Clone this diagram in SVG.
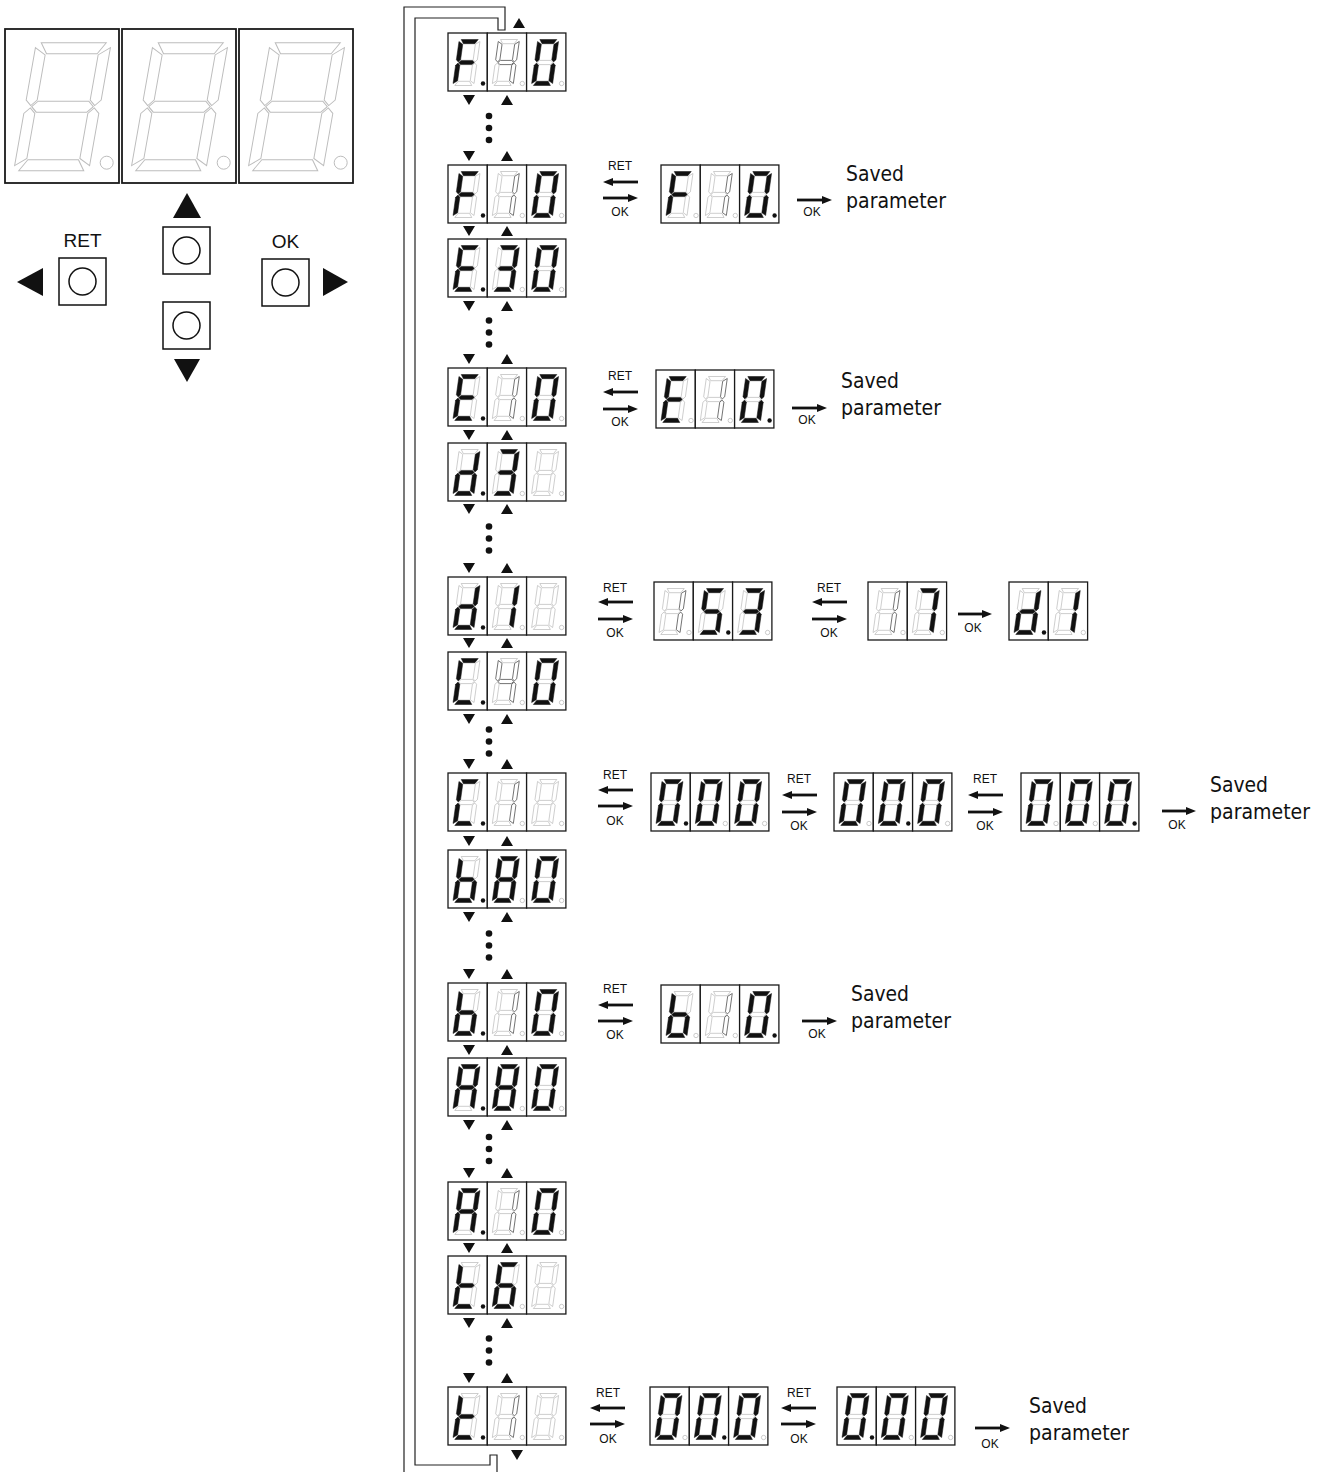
<svg xmlns="http://www.w3.org/2000/svg" xmlns:xlink="http://www.w3.org/1999/xlink" width="1328" height="1472" viewBox="0 0 1328 1472">
<style>
.cell{fill:#fff;stroke:#1a1a1a;stroke-width:1.3}
.bigcell{fill:#fff;stroke:#1a1a1a;stroke-width:1.8}
.on{fill:#111;stroke:#111;stroke-width:0.5;stroke-linejoin:round}
.off{fill:none;stroke:#b0b0b0;stroke-width:0.6}
.dim{fill:none;stroke:#555;stroke-width:0.8}
.boff{fill:none;stroke:#bdbdbd;stroke-width:1}
.dpon{fill:#111}
.dpoff{fill:#fff;stroke:#aaa;stroke-width:0.6}
.lbl{font-family:"Liberation Sans",Arial,sans-serif;font-size:12px;fill:#111;text-anchor:middle}
.btxt{font-family:"Liberation Sans",Arial,sans-serif;font-size:19px;fill:#111;text-anchor:middle}
.sv{font-family:"DejaVu Sans",Verdana,sans-serif;font-size:21px;fill:#111}
.btn{fill:#fff;stroke:#111;stroke-width:1.5}
.tri{fill:#111}
.arr{stroke:#111;stroke-width:2.8;fill:none;marker-end:url(#ah)}
.loop{fill:none;stroke:#222;stroke-width:1.2}
</style>
<defs>
<marker id="ah" viewBox="0 0 10 8" refX="1" refY="4" markerWidth="10" markerHeight="8" markerUnits="userSpaceOnUse" orient="auto"><path d="M0,0L10,4L0,8z" fill="#111"/></marker>
<polygon id="sa" points="2,0 19,0 16.2,4.2 4.8,4.2"/>
<polygon id="sb" points="21,2 21,20.3 18.9,22.4 16.8,20.3 16.8,4.8"/>
<polygon id="sc" points="21,44 21,25.7 18.9,23.6 16.8,25.7 16.8,41.2"/>
<polygon id="sd" points="2,46 19,46 16.2,41.8 4.8,41.8"/>
<polygon id="se" points="0,44 0,25.7 2.1,23.6 4.2,25.7 4.2,41.2"/>
<polygon id="sf" points="0,2 0,20.3 2.1,22.4 4.2,20.3 4.2,4.8"/>
<polygon id="sg" points="2.7,23 4.8,20.9 16.2,20.9 18.3,23 16.2,25.1 4.8,25.1"/>
<g id="D0" transform="translate(18.5 29.5) skewX(-8) translate(-10.5 -23)"><use href="#sa" class="on"/><use href="#sb" class="on"/><use href="#sc" class="on"/><use href="#sd" class="on"/><use href="#se" class="on"/><use href="#sf" class="on"/><use href="#sg" class="off"/></g>
<g id="D1" transform="translate(18.5 29.5) skewX(-8) translate(-10.5 -23)"><use href="#sa" class="off"/><use href="#sb" class="on"/><use href="#sc" class="on"/><use href="#sd" class="off"/><use href="#se" class="off"/><use href="#sf" class="off"/><use href="#sg" class="off"/></g>
<g id="D1m" transform="translate(18.5 29.5) skewX(-8) translate(-10.5 -23)"><use href="#sa" class="off"/><use href="#sb" class="dim"/><use href="#sc" class="dim"/><use href="#sd" class="off"/><use href="#se" class="off"/><use href="#sf" class="off"/><use href="#sg" class="off"/></g>
<g id="D3" transform="translate(18.5 29.5) skewX(-8) translate(-10.5 -23)"><use href="#sa" class="on"/><use href="#sb" class="on"/><use href="#sc" class="on"/><use href="#sd" class="on"/><use href="#se" class="off"/><use href="#sf" class="off"/><use href="#sg" class="on"/></g>
<g id="D4m" transform="translate(18.5 29.5) skewX(-8) translate(-10.5 -23)"><use href="#sa" class="off"/><use href="#sb" class="dim"/><use href="#sc" class="dim"/><use href="#sd" class="off"/><use href="#se" class="off"/><use href="#sf" class="dim"/><use href="#sg" class="dim"/></g>
<g id="D5" transform="translate(18.5 29.5) skewX(-8) translate(-10.5 -23)"><use href="#sa" class="on"/><use href="#sb" class="off"/><use href="#sc" class="on"/><use href="#sd" class="on"/><use href="#se" class="off"/><use href="#sf" class="on"/><use href="#sg" class="on"/></g>
<g id="D6" transform="translate(18.5 29.5) skewX(-8) translate(-10.5 -23)"><use href="#sa" class="on"/><use href="#sb" class="off"/><use href="#sc" class="on"/><use href="#sd" class="on"/><use href="#se" class="on"/><use href="#sf" class="on"/><use href="#sg" class="on"/></g>
<g id="D7" transform="translate(18.5 29.5) skewX(-8) translate(-10.5 -23)"><use href="#sa" class="on"/><use href="#sb" class="on"/><use href="#sc" class="on"/><use href="#sd" class="off"/><use href="#se" class="off"/><use href="#sf" class="off"/><use href="#sg" class="off"/></g>
<g id="D8" transform="translate(18.5 29.5) skewX(-8) translate(-10.5 -23)"><use href="#sa" class="on"/><use href="#sb" class="on"/><use href="#sc" class="on"/><use href="#sd" class="on"/><use href="#se" class="on"/><use href="#sf" class="on"/><use href="#sg" class="on"/></g>
<g id="DA" transform="translate(18.5 29.5) skewX(-8) translate(-10.5 -23)"><use href="#sa" class="on"/><use href="#sb" class="on"/><use href="#sc" class="on"/><use href="#sd" class="off"/><use href="#se" class="on"/><use href="#sf" class="on"/><use href="#sg" class="on"/></g>
<g id="Db" transform="translate(18.5 29.5) skewX(-8) translate(-10.5 -23)"><use href="#sa" class="off"/><use href="#sb" class="off"/><use href="#sc" class="on"/><use href="#sd" class="on"/><use href="#se" class="on"/><use href="#sf" class="on"/><use href="#sg" class="on"/></g>
<g id="DC" transform="translate(18.5 29.5) skewX(-8) translate(-10.5 -23)"><use href="#sa" class="on"/><use href="#sb" class="off"/><use href="#sc" class="off"/><use href="#sd" class="on"/><use href="#se" class="on"/><use href="#sf" class="on"/><use href="#sg" class="off"/></g>
<g id="Dd" transform="translate(18.5 29.5) skewX(-8) translate(-10.5 -23)"><use href="#sa" class="off"/><use href="#sb" class="on"/><use href="#sc" class="on"/><use href="#sd" class="on"/><use href="#se" class="on"/><use href="#sf" class="off"/><use href="#sg" class="on"/></g>
<g id="DE" transform="translate(18.5 29.5) skewX(-8) translate(-10.5 -23)"><use href="#sa" class="on"/><use href="#sb" class="off"/><use href="#sc" class="off"/><use href="#sd" class="on"/><use href="#se" class="on"/><use href="#sf" class="on"/><use href="#sg" class="on"/></g>
<g id="DF" transform="translate(18.5 29.5) skewX(-8) translate(-10.5 -23)"><use href="#sa" class="on"/><use href="#sb" class="off"/><use href="#sc" class="off"/><use href="#sd" class="off"/><use href="#se" class="on"/><use href="#sf" class="on"/><use href="#sg" class="on"/></g>
<g id="Dt" transform="translate(18.5 29.5) skewX(-8) translate(-10.5 -23)"><use href="#sa" class="off"/><use href="#sb" class="off"/><use href="#sc" class="off"/><use href="#sd" class="on"/><use href="#se" class="on"/><use href="#sf" class="on"/><use href="#sg" class="on"/></g>
<g id="Dx" transform="translate(18.5 29.5) skewX(-8) translate(-10.5 -23)"><use href="#sa" class="off"/><use href="#sb" class="off"/><use href="#sc" class="off"/><use href="#sd" class="off"/><use href="#se" class="off"/><use href="#sf" class="off"/><use href="#sg" class="off"/></g>
<g id="BD" class="boff" transform="translate(57.5 77.7) skewX(-10) translate(-37.5 -64)">
<polygon points="5,0 70,0 62.8,11 12.2,11"/>
<polygon points="75,5 75,57.3 69.5,62.8 64,57.3 64,12.2"/>
<polygon points="75,123 75,70.7 69.5,65.2 64,70.7 64,115.8"/>
<polygon points="5,128 70,128 62.8,117 12.2,117"/>
<polygon points="0,123 0,70.7 5.5,65.2 11,70.7 11,115.8"/>
<polygon points="0,5 0,57.3 5.5,62.8 11,57.3 11,12.2"/>
<polygon points="6.7,64 12.2,58.5 62.8,58.5 68.3,64 62.8,69.5 12.2,69.5"/>
</g>
<rect id="C" class="cell" width="39.3" height="58"/>
<circle id="P" cx="35" cy="50.5" r="2.2"/>
</defs>

<rect width="1328" height="1472" fill="#fff"/>

<g id="big-display">
<g transform="translate(5 29)"><rect class="bigcell" width="114" height="154"/><use href="#BD"/><circle class="boff" cx="101.7" cy="133.7" r="6.5"/></g>
<g transform="translate(122 29)"><rect class="bigcell" width="114" height="154"/><use href="#BD"/><circle class="boff" cx="101.7" cy="133.7" r="6.5"/></g>
<g transform="translate(239 29)"><rect class="bigcell" width="114" height="154"/><use href="#BD"/><circle class="boff" cx="101.7" cy="133.7" r="6.5"/></g>
</g>

<g id="btn-ret"><text class="btxt" x="82.5" y="247">RET</text><rect class="btn" x="59" y="258" width="47" height="47"/><circle class="btn" cx="82.5" cy="281.5" r="13.5"/><polygon class="tri" points="17,282 43,268 43,296"/></g>
<g id="btn-up"><polygon class="tri" points="173,218 201,218 187,193"/><rect class="btn" x="163" y="227" width="47" height="47"/><circle class="btn" cx="186.5" cy="250.5" r="13.5"/></g>
<g id="btn-down"><rect class="btn" x="163" y="302" width="47" height="47"/><circle class="btn" cx="186.5" cy="325.5" r="13.5"/><polygon class="tri" points="174,359 200,359 187,382"/></g>
<g id="btn-ok"><text class="btxt" x="285.5" y="248">OK</text><rect class="btn" x="262" y="259" width="47" height="47"/><circle class="btn" cx="285.5" cy="282.5" r="13.5"/><polygon class="tri" points="323,268 323,296 348,282"/></g>

<g id="connectors">
<path class="loop" d="M404,1472 V7 H505 V30 H498 V18 H415 V1465 H490 V1455 H497 V1472"/>
<polygon class="tri" points="513,28 525,28 519,18"/>
<polygon class="tri" points="511,1450 523,1450 517,1460"/>
<g class="tri">
<polygon points="463,95 475,95 469,105"/><polygon points="501,105 513,105 507,95"/>
<polygon points="463,151 475,151 469,161"/><polygon points="501,161 513,161 507,151"/>
<polygon points="463,226 475,226 469,236"/><polygon points="501,236 513,236 507,226"/>
<polygon points="463,301 475,301 469,311"/><polygon points="501,311 513,311 507,301"/>
<polygon points="463,354 475,354 469,364"/><polygon points="501,364 513,364 507,354"/>
<polygon points="463,430 475,430 469,440"/><polygon points="501,440 513,440 507,430"/>
<polygon points="463,504 475,504 469,514"/><polygon points="501,514 513,514 507,504"/>
<polygon points="463,563 475,563 469,573"/><polygon points="501,573 513,573 507,563"/>
<polygon points="463,638 475,638 469,648"/><polygon points="501,648 513,648 507,638"/>
<polygon points="463,714 475,714 469,724"/><polygon points="501,724 513,724 507,714"/>
<polygon points="463,759 475,759 469,769"/><polygon points="501,769 513,769 507,759"/>
<polygon points="463,836 475,836 469,846"/><polygon points="501,846 513,846 507,836"/>
<polygon points="463,912 475,912 469,922"/><polygon points="501,922 513,922 507,912"/>
<polygon points="463,969 475,969 469,979"/><polygon points="501,979 513,979 507,969"/>
<polygon points="463,1045 475,1045 469,1055"/><polygon points="501,1055 513,1055 507,1045"/>
<polygon points="463,1120 475,1120 469,1130"/><polygon points="501,1130 513,1130 507,1120"/>
<polygon points="463,1168 475,1168 469,1178"/><polygon points="501,1178 513,1178 507,1168"/>
<polygon points="463,1243 475,1243 469,1253"/><polygon points="501,1253 513,1253 507,1243"/>
<polygon points="463,1318 475,1318 469,1328"/><polygon points="501,1328 513,1328 507,1318"/>
<polygon points="463,1373 475,1373 469,1383"/><polygon points="501,1383 513,1383 507,1373"/>
</g>
<g class="tri">
<circle cx="489" cy="116" r="3.3"/><circle cx="489" cy="128" r="3.3"/><circle cx="489" cy="140" r="3.3"/>
<circle cx="489" cy="320.5" r="3.3"/><circle cx="489" cy="332.5" r="3.3"/><circle cx="489" cy="344.5" r="3.3"/>
<circle cx="489" cy="526.5" r="3.3"/><circle cx="489" cy="538.5" r="3.3"/><circle cx="489" cy="550.5" r="3.3"/>
<circle cx="489" cy="729.5" r="3.3"/><circle cx="489" cy="741.5" r="3.3"/><circle cx="489" cy="753.5" r="3.3"/>
<circle cx="489" cy="933.5" r="3.3"/><circle cx="489" cy="945.5" r="3.3"/><circle cx="489" cy="957.5" r="3.3"/>
<circle cx="489" cy="1137" r="3.3"/><circle cx="489" cy="1149" r="3.3"/><circle cx="489" cy="1161" r="3.3"/>
<circle cx="489" cy="1338.5" r="3.3"/><circle cx="489" cy="1350.5" r="3.3"/><circle cx="489" cy="1362.5" r="3.3"/>
</g>
<line class="arr" x1="638" y1="182" x2="612" y2="182"/><line class="arr" x1="603" y1="198" x2="629" y2="198"/>
<line class="arr" x1="797" y1="200" x2="823" y2="200"/>
<line class="arr" x1="638" y1="392" x2="612" y2="392"/><line class="arr" x1="603" y1="409" x2="629" y2="409"/>
<line class="arr" x1="792" y1="408" x2="818" y2="408"/>
<line class="arr" x1="633" y1="602" x2="607" y2="602"/><line class="arr" x1="598" y1="619" x2="624" y2="619"/>
<line class="arr" x1="847" y1="602" x2="821" y2="602"/><line class="arr" x1="812" y1="619" x2="838" y2="619"/>
<line class="arr" x1="958" y1="614" x2="983" y2="614"/>
<line class="arr" x1="633" y1="790" x2="607" y2="790"/><line class="arr" x1="598" y1="806" x2="624" y2="806"/>
<line class="arr" x1="817" y1="795" x2="791" y2="795"/><line class="arr" x1="782" y1="812" x2="808" y2="812"/>
<line class="arr" x1="1003" y1="795" x2="977" y2="795"/><line class="arr" x1="968" y1="812" x2="994" y2="812"/>
<line class="arr" x1="1162" y1="811" x2="1187" y2="811"/>
<line class="arr" x1="633" y1="1005" x2="607" y2="1005"/><line class="arr" x1="598" y1="1021" x2="624" y2="1021"/>
<line class="arr" x1="802" y1="1021" x2="828" y2="1021"/>
<line class="arr" x1="625" y1="1408" x2="599" y2="1408"/><line class="arr" x1="590" y1="1424" x2="616" y2="1424"/>
<line class="arr" x1="816" y1="1408" x2="790" y2="1408"/><line class="arr" x1="781" y1="1424" x2="807" y2="1424"/>
<line class="arr" x1="975" y1="1428" x2="1001" y2="1428"/>
</g>

<g id="labels">
<text class="lbl" x="620" y="170">RET</text><text class="lbl" x="620" y="216">OK</text><text class="lbl" x="812" y="216">OK</text>
<text class="lbl" x="620" y="380">RET</text><text class="lbl" x="620" y="426">OK</text><text class="lbl" x="807" y="424">OK</text>
<text class="lbl" x="615" y="592">RET</text><text class="lbl" x="615" y="637">OK</text>
<text class="lbl" x="829" y="592">RET</text><text class="lbl" x="829" y="637">OK</text><text class="lbl" x="973" y="632">OK</text>
<text class="lbl" x="615" y="779">RET</text><text class="lbl" x="615" y="825">OK</text>
<text class="lbl" x="799" y="783">RET</text><text class="lbl" x="799" y="830">OK</text>
<text class="lbl" x="985" y="783">RET</text><text class="lbl" x="985" y="830">OK</text><text class="lbl" x="1177" y="829">OK</text>
<text class="lbl" x="615" y="993">RET</text><text class="lbl" x="615" y="1039">OK</text><text class="lbl" x="817" y="1038">OK</text>
<text class="lbl" x="608" y="1397">RET</text><text class="lbl" x="608" y="1443">OK</text>
<text class="lbl" x="799" y="1397">RET</text><text class="lbl" x="799" y="1443">OK</text><text class="lbl" x="990" y="1448">OK</text>
<text class="sv" x="846" y="181" textLength="58" lengthAdjust="spacingAndGlyphs">Saved</text><text class="sv" x="846" y="208" textLength="100" lengthAdjust="spacingAndGlyphs">parameter</text>
<text class="sv" x="841" y="388" textLength="58" lengthAdjust="spacingAndGlyphs">Saved</text><text class="sv" x="841" y="415" textLength="100" lengthAdjust="spacingAndGlyphs">parameter</text>
<text class="sv" x="1210" y="792" textLength="58" lengthAdjust="spacingAndGlyphs">Saved</text><text class="sv" x="1210" y="819" textLength="100" lengthAdjust="spacingAndGlyphs">parameter</text>
<text class="sv" x="851" y="1001" textLength="58" lengthAdjust="spacingAndGlyphs">Saved</text><text class="sv" x="851" y="1028" textLength="100" lengthAdjust="spacingAndGlyphs">parameter</text>
<text class="sv" x="1029" y="1413" textLength="58" lengthAdjust="spacingAndGlyphs">Saved</text><text class="sv" x="1029" y="1440" textLength="100" lengthAdjust="spacingAndGlyphs">parameter</text>
</g>

<g id="disp-F40" transform="translate(448 33)">
<g><use href="#C"/><use href="#DF"/><use href="#P" class="dpon"/></g>
<g transform="translate(39.3 0)"><use href="#C"/><use href="#D4m"/><use href="#P" class="dpoff"/></g>
<g transform="translate(78.6 0)"><use href="#C"/><use href="#D0"/><use href="#P" class="dpoff"/></g>
</g>
<g id="disp-F10" transform="translate(448 165)">
<g><use href="#C"/><use href="#DF"/><use href="#P" class="dpon"/></g>
<g transform="translate(39.3 0)"><use href="#C"/><use href="#D1m"/><use href="#P" class="dpoff"/></g>
<g transform="translate(78.6 0)"><use href="#C"/><use href="#D0"/><use href="#P" class="dpoff"/></g>
</g>
<g id="disp-E30" transform="translate(448 239)">
<g><use href="#C"/><use href="#DE"/><use href="#P" class="dpon"/></g>
<g transform="translate(39.3 0)"><use href="#C"/><use href="#D3"/><use href="#P" class="dpoff"/></g>
<g transform="translate(78.6 0)"><use href="#C"/><use href="#D0"/><use href="#P" class="dpoff"/></g>
</g>
<g id="disp-E10" transform="translate(448 368)">
<g><use href="#C"/><use href="#DE"/><use href="#P" class="dpon"/></g>
<g transform="translate(39.3 0)"><use href="#C"/><use href="#D1m"/><use href="#P" class="dpoff"/></g>
<g transform="translate(78.6 0)"><use href="#C"/><use href="#D0"/><use href="#P" class="dpoff"/></g>
</g>
<g id="disp-d3" transform="translate(448 443)">
<g><use href="#C"/><use href="#Dd"/><use href="#P" class="dpon"/></g>
<g transform="translate(39.3 0)"><use href="#C"/><use href="#D3"/><use href="#P" class="dpoff"/></g>
<g transform="translate(78.6 0)"><use href="#C"/><use href="#Dx"/><use href="#P" class="dpoff"/></g>
</g>
<g id="disp-d1" transform="translate(448 577)">
<g><use href="#C"/><use href="#Dd"/><use href="#P" class="dpon"/></g>
<g transform="translate(39.3 0)"><use href="#C"/><use href="#D1"/><use href="#P" class="dpoff"/></g>
<g transform="translate(78.6 0)"><use href="#C"/><use href="#Dx"/><use href="#P" class="dpoff"/></g>
</g>
<g id="disp-C40" transform="translate(448 652)">
<g><use href="#C"/><use href="#DC"/><use href="#P" class="dpon"/></g>
<g transform="translate(39.3 0)"><use href="#C"/><use href="#D4m"/><use href="#P" class="dpoff"/></g>
<g transform="translate(78.6 0)"><use href="#C"/><use href="#D0"/><use href="#P" class="dpoff"/></g>
</g>
<g id="disp-C1" transform="translate(448 773)">
<g><use href="#C"/><use href="#DC"/><use href="#P" class="dpon"/></g>
<g transform="translate(39.3 0)"><use href="#C"/><use href="#D1m"/><use href="#P" class="dpoff"/></g>
<g transform="translate(78.6 0)"><use href="#C"/><use href="#Dx"/><use href="#P" class="dpoff"/></g>
</g>
<g id="disp-b80" transform="translate(448 850)">
<g><use href="#C"/><use href="#Db"/><use href="#P" class="dpon"/></g>
<g transform="translate(39.3 0)"><use href="#C"/><use href="#D8"/><use href="#P" class="dpoff"/></g>
<g transform="translate(78.6 0)"><use href="#C"/><use href="#D0"/><use href="#P" class="dpoff"/></g>
</g>
<g id="disp-b10" transform="translate(448 983)">
<g><use href="#C"/><use href="#Db"/><use href="#P" class="dpon"/></g>
<g transform="translate(39.3 0)"><use href="#C"/><use href="#D1m"/><use href="#P" class="dpoff"/></g>
<g transform="translate(78.6 0)"><use href="#C"/><use href="#D0"/><use href="#P" class="dpoff"/></g>
</g>
<g id="disp-A80" transform="translate(448 1058)">
<g><use href="#C"/><use href="#DA"/><use href="#P" class="dpon"/></g>
<g transform="translate(39.3 0)"><use href="#C"/><use href="#D8"/><use href="#P" class="dpoff"/></g>
<g transform="translate(78.6 0)"><use href="#C"/><use href="#D0"/><use href="#P" class="dpoff"/></g>
</g>
<g id="disp-A10" transform="translate(448 1182)">
<g><use href="#C"/><use href="#DA"/><use href="#P" class="dpon"/></g>
<g transform="translate(39.3 0)"><use href="#C"/><use href="#D1m"/><use href="#P" class="dpoff"/></g>
<g transform="translate(78.6 0)"><use href="#C"/><use href="#D0"/><use href="#P" class="dpoff"/></g>
</g>
<g id="disp-t6" transform="translate(448 1256)">
<g><use href="#C"/><use href="#Dt"/><use href="#P" class="dpon"/></g>
<g transform="translate(39.3 0)"><use href="#C"/><use href="#D6"/><use href="#P" class="dpoff"/></g>
<g transform="translate(78.6 0)"><use href="#C"/><use href="#Dx"/><use href="#P" class="dpoff"/></g>
</g>
<g id="disp-t1" transform="translate(448 1387)">
<g><use href="#C"/><use href="#Dt"/><use href="#P" class="dpon"/></g>
<g transform="translate(39.3 0)"><use href="#C"/><use href="#D1m"/><use href="#P" class="dpoff"/></g>
<g transform="translate(78.6 0)"><use href="#C"/><use href="#Dx"/><use href="#P" class="dpoff"/></g>
</g>

<g id="disp-F10-edit" transform="translate(661 165)">
<g><use href="#C"/><use href="#DF"/><use href="#P" class="dpoff"/></g>
<g transform="translate(39.3 0)"><use href="#C"/><use href="#D1m"/><use href="#P" class="dpoff"/></g>
<g transform="translate(78.6 0)"><use href="#C"/><use href="#D0"/><use href="#P" class="dpon"/></g>
</g>
<g id="disp-E10-edit" transform="translate(656 370)">
<g><use href="#C"/><use href="#DE"/><use href="#P" class="dpoff"/></g>
<g transform="translate(39.3 0)"><use href="#C"/><use href="#D1m"/><use href="#P" class="dpoff"/></g>
<g transform="translate(78.6 0)"><use href="#C"/><use href="#D0"/><use href="#P" class="dpon"/></g>
</g>
<g id="disp-153" transform="translate(654 582)">
<g><use href="#C"/><use href="#D1m"/><use href="#P" class="dpoff"/></g>
<g transform="translate(39.3 0)"><use href="#C"/><use href="#D5"/><use href="#P" class="dpon"/></g>
<g transform="translate(78.6 0)"><use href="#C"/><use href="#D3"/><use href="#P" class="dpoff"/></g>
</g>
<g id="disp-17" transform="translate(868 582)">
<g><use href="#C"/><use href="#D1m"/><use href="#P" class="dpoff"/></g>
<g transform="translate(39.3 0)"><use href="#C"/><use href="#D7"/><use href="#P" class="dpoff"/></g>
</g>
<g id="disp-d1-out" transform="translate(1009 582)">
<g><use href="#C"/><use href="#Dd"/><use href="#P" class="dpon"/></g>
<g transform="translate(39.3 0)"><use href="#C"/><use href="#D1"/><use href="#P" class="dpoff"/></g>
</g>
<g id="disp-C-0.00" transform="translate(651 773)">
<g><use href="#C"/><use href="#D0"/><use href="#P" class="dpon"/></g>
<g transform="translate(39.3 0)"><use href="#C"/><use href="#D0"/><use href="#P" class="dpoff"/></g>
<g transform="translate(78.6 0)"><use href="#C"/><use href="#D0"/><use href="#P" class="dpoff"/></g>
</g>
<g id="disp-C-00.0" transform="translate(834 773)">
<g><use href="#C"/><use href="#D0"/><use href="#P" class="dpoff"/></g>
<g transform="translate(39.3 0)"><use href="#C"/><use href="#D0"/><use href="#P" class="dpon"/></g>
<g transform="translate(78.6 0)"><use href="#C"/><use href="#D0"/><use href="#P" class="dpoff"/></g>
</g>
<g id="disp-C-000." transform="translate(1021 773)">
<g><use href="#C"/><use href="#D0"/><use href="#P" class="dpoff"/></g>
<g transform="translate(39.3 0)"><use href="#C"/><use href="#D0"/><use href="#P" class="dpoff"/></g>
<g transform="translate(78.6 0)"><use href="#C"/><use href="#D0"/><use href="#P" class="dpon"/></g>
</g>
<g id="disp-b10-edit" transform="translate(661 985)">
<g><use href="#C"/><use href="#Db"/><use href="#P" class="dpoff"/></g>
<g transform="translate(39.3 0)"><use href="#C"/><use href="#D1m"/><use href="#P" class="dpoff"/></g>
<g transform="translate(78.6 0)"><use href="#C"/><use href="#D0"/><use href="#P" class="dpon"/></g>
</g>
<g id="disp-t-00.0" transform="translate(650 1387)">
<g><use href="#C"/><use href="#D0"/><use href="#P" class="dpoff"/></g>
<g transform="translate(39.3 0)"><use href="#C"/><use href="#D0"/><use href="#P" class="dpon"/></g>
<g transform="translate(78.6 0)"><use href="#C"/><use href="#D0"/><use href="#P" class="dpoff"/></g>
</g>
<g id="disp-t-0.00" transform="translate(837 1387)">
<g><use href="#C"/><use href="#D0"/><use href="#P" class="dpon"/></g>
<g transform="translate(39.3 0)"><use href="#C"/><use href="#D0"/><use href="#P" class="dpoff"/></g>
<g transform="translate(78.6 0)"><use href="#C"/><use href="#D0"/><use href="#P" class="dpoff"/></g>
</g>
</svg>
